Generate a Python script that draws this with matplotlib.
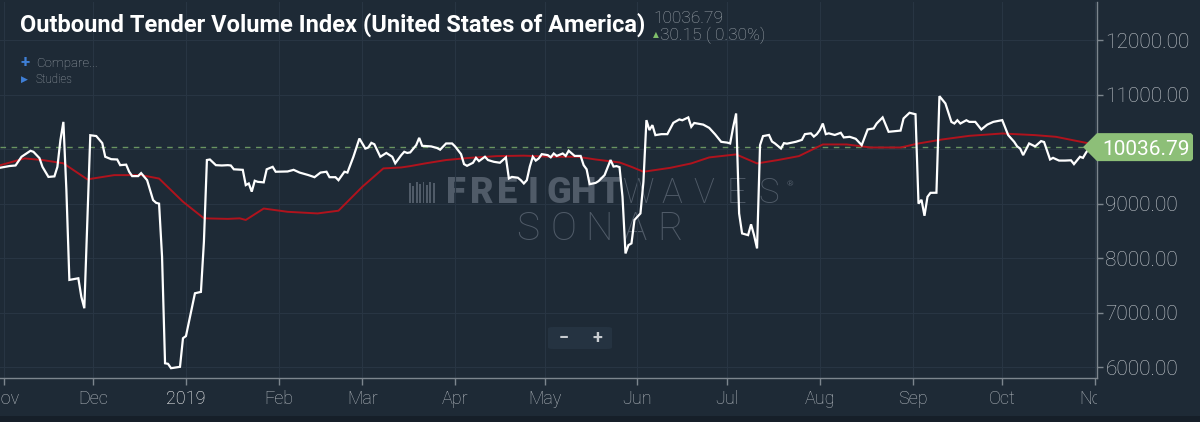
import pandas as pd
import matplotlib.pyplot as plt
from matplotlib.patches import Polygon, FancyBboxPatch, Rectangle
from matplotlib.transforms import Bbox, TransformedBbox, IdentityTransform

# Outbound tender volume index (days after 2018-11-01)
start = pd.Timestamp('2018-11-01')

otvi_days = [-1, 2, 4, 6, 9, 10, 12, 13, 15, 17, 18, 19, 20, 21, 22, 25, 26, 27, 28, 29,
             31, 33, 34, 36, 38, 39, 41, 42, 43, 45, 46, 48, 50, 51, 52, 53, 54, 55, 56, 59,
             60, 61, 64, 66, 67, 68, 69, 71, 73, 75, 76, 77, 80, 81, 82, 83, 84, 85, 87, 88,
             90, 91, 95, 97, 99, 102, 104, 106, 108, 109, 111, 112, 114, 115, 117, 119, 121, 122, 123, 124,
             126, 128, 130, 131, 133, 134, 135, 136, 138, 139, 140, 143, 145, 146, 148, 150, 151, 153, 154, 155,
             157, 158, 159, 161, 162, 164, 166, 168, 169, 170, 172, 173, 174, 175, 176, 177, 178, 179, 180, 182,
             183, 184, 185, 187, 188, 189, 191, 193, 194, 195, 196, 198, 199, 201, 203, 204, 205, 206, 207, 208,
             209, 210, 211, 213, 214, 215, 216, 217, 218, 220, 222, 224, 226, 227, 229, 230, 231, 234, 236, 238,
             240, 242, 243, 244, 245, 246, 247, 249, 250, 251, 252, 253, 254, 256, 257, 258, 260, 261, 262, 265,
             267, 268, 270, 271, 272, 273, 274, 275, 276, 278, 280, 281, 283, 285, 287, 289, 291, 292, 294, 296,
             298, 300, 301, 303, 305, 306, 307, 308, 309, 310, 312, 313, 315, 317, 318, 319, 320, 322, 323, 325,
             327, 329, 331, 334, 336, 338, 339, 340, 341, 343, 345, 347, 348, 350, 351, 353, 355, 357, 358, 360,
             361, 362, 363, 364, 365]
otvi_vals = [9660, 9690, 9700, 9860, 9970, 9950, 9835, 9675, 9490, 9500, 9675, 10165, 10500, 9250, 7600, 7630, 7290, 7080, 8640, 10255,
             10240, 10110, 9860, 9815, 9810, 9706, 9715, 9585, 9505, 9505, 9560, 9430, 9065, 9015, 9000, 8025, 6070, 6060, 5980, 6005,
             6530, 6570, 7355, 7380, 8300, 9800, 9810, 9706, 9700, 9706, 9700, 9630, 9620, 9340, 9370, 9220, 9420, 9400, 9390, 9630,
             9675, 9585, 9590, 9620, 9570, 9523, 9485, 9570, 9585, 9485, 9485, 9430, 9585, 9570, 9860, 10195, 10010, 10030, 10115, 10090,
             9860, 9930, 9860, 9740, 9890, 9951, 9930, 9940, 10073, 10207, 10061, 10050, 10020, 9990, 10104, 10104, 10050, 9908, 9725, 9694,
             9750, 9840, 9780, 9860, 9800, 9767, 9750, 9848, 9462, 9490, 9475, 9430, 9370, 9430, 9680, 9860, 9790, 9830, 9908, 9890,
             9850, 9920, 9875, 9920, 9875, 9970, 9875, 9875, 9706, 9630, 9357, 9380, 9413, 9523, 9800, 9680, 9688, 9670, 9125, 8086,
             8238, 8270, 8700, 8820, 9400, 10532, 10350, 10440, 10257, 10275, 10275, 10483, 10545, 10530, 10582, 10410, 10480, 10450, 10390, 10270,
             10134, 10120, 10104, 10400, 10655, 8820, 8453, 8422, 8620, 8420, 8178, 10073, 10239, 10260, 10140, 10104, 10012, 10110, 10100, 10135,
             10170, 10275, 10290, 10230, 10275, 10350, 10470, 10275, 10290, 10260, 10300, 10215, 10226, 10190, 10073, 10361, 10380, 10470, 10582, 10318,
             10330, 10340, 10563, 10667, 10640, 9000, 9070, 8777, 9125, 9198, 9200, 10972, 10838, 10500, 10470, 10530, 10470, 10530, 10500, 10500,
             10361, 10450, 10500, 10532, 10257, 10134, 10050, 10010, 9890, 10104, 10050, 10147, 10130, 9810, 9840, 9790, 9790, 9795, 9725, 9860,
             9840, 9933, 10012, 10006.64, 10036.79]

# red moving average line
avg_days = [-1, 7, 13, 20, 28, 37, 46, 52, 60, 67, 75, 79, 81, 87, 95, 105, 112, 120, 127, 133,
            136, 141, 148, 156, 165, 174, 183, 192, 198, 206, 210, 214, 223, 230, 236, 245, 252, 259, 266, 274,
            282, 290, 300, 306, 314, 323, 334, 345, 352, 362, 365]
avg_vals = [9706, 9830, 9800, 9740, 9445, 9523, 9523, 9460, 9035, 8730, 8720, 8730, 8700, 8910, 8850, 8820, 8870, 9310, 9646, 9664,
            9688, 9738, 9800, 9840, 9872, 9880, 9860, 9860, 9810, 9756, 9675, 9585, 9657, 9738, 9848, 9903, 9738, 9800, 9872, 10086,
            10086, 10030, 10030, 10104, 10178, 10244, 10287, 10257, 10226, 10116, 10073]

last_value = 10036.79
change = 30.15
change_pct = 0.30

month_ticks = pd.date_range('2018-11-01', '2019-11-01', freq='MS')
month_labels = ['Nov', 'Dec', '2019', 'Feb', 'Mar', 'Apr', 'May', 'Jun', 'Jul', 'Aug', 'Sep', 'Oct', 'Nov']
y_ticks = [6000, 7000, 8000, 9000, 10000, 11000, 12000]

otvi_dates = start + pd.to_timedelta(otvi_days, unit='D')
avg_dates = start + pd.to_timedelta(avg_days, unit='D')

bg = '#1e2a36'
W, H = 1200, 422


def fx(x):
    return x / W


def fy(y):
    return 1 - y / H


plt.rcParams['font.family'] = ['Roboto', 'DejaVu Sans']

fig = plt.figure(figsize=(12, 4.22), dpi=100, facecolor=bg)
ax = fig.add_axes([0, 44 / H, 1097 / W, 376 / H])
ax.set_facecolor(bg)

ax.plot(otvi_dates, otvi_vals, color='white', lw=1.6, zorder=4, solid_joinstyle='miter')
ax.plot(avg_dates, avg_vals, color='#b0131d', lw=1.4, zorder=3)
ax.axhline(last_value, color='#6a9562', lw=1, ls=(0, (4, 4)), zorder=2)

ax.set_xlim(start - pd.Timedelta(days=1.2), start + pd.Timedelta(days=365.7))
ax.set_ylim(5800, 12700)

for s in ['left', 'top']:
    ax.spines[s].set_visible(False)
for s in ['right', 'bottom']:
    ax.spines[s].set_color('#7d868e')
    ax.spines[s].set_linewidth(1)

ax.yaxis.tick_right()
ax.set_yticks(y_ticks)
ax.set_yticklabels([f'{v:.2f}' for v in y_ticks])
ax.set_xticks(month_ticks)
ax.set_xticklabels(month_labels)
ax.tick_params(axis='y', colors='#7d868e', labelcolor='#c3c8cd', length=4, width=1, pad=2, labelsize=15)
ax.tick_params(axis='x', colors='#7d868e', labelcolor='#b4bac0', length=5, width=1, pad=4, labelsize=13)
ax.grid(True, color='#283543', lw=0.8, zorder=0)

clip = TransformedBbox(Bbox([[0, 0], [1097 / W, 1]]), fig.transFigure)
for lab in ax.get_xticklabels():
    lab.set_fontweight('light')
    lab.set_clip_box(clip)
    lab.set_clip_on(True)
    if lab.get_text() == '2019':
        lab.set_color('#ffffff')
for lab in ax.get_yticklabels():
    lab.set_fontweight('light')

# watermark
wm = '#505b68'
for i, ch in enumerate('FREIGHT'):
    ax.text(fx(456 + i * 25.6), fy(193), ch, transform=fig.transFigure, ha='center', va='center',
            fontsize=26, fontweight='heavy', color=wm, zorder=1)
for i, ch in enumerate('WAVES'):
    ax.text(fx(639 + i * 32.4), fy(193), ch, transform=fig.transFigure, ha='center', va='center',
            fontsize=25, fontweight='light', color=wm, zorder=1)
ax.text(fx(790), fy(184), '®', transform=fig.transFigure, ha='center', va='center',
        fontsize=6, color=wm, zorder=1)
for i, ch in enumerate('SONAR'):
    ax.text(fx(528 + i * 35.6), fy(229), ch, transform=fig.transFigure, ha='center', va='center',
            fontsize=28, fontweight='light', color=wm, zorder=1)
for i, top in enumerate([183, 186, 182, 184, 182, 185, 182, 183]):
    ax.add_patch(Rectangle((fx(409 + i * 3.4), fy(203)), 1.8 / W, (203 - top) / H,
                           transform=fig.transFigure, color=wm, zorder=1, lw=0))

# zoom buttons
fig.patches.append(FancyBboxPatch((fx(548), fy(349)), 64 / W, 22 / H,
                                  boxstyle='round,pad=0,rounding_size=0.004',
                                  transform=fig.transFigure, fc='#253341', ec='none', zorder=5))
fig.text(fx(564), fy(338), '−', ha='center', va='center', fontsize=13, fontweight='bold', color='#c8ccd0', zorder=6)
fig.text(fx(597), fy(338), '+', ha='center', va='center', fontsize=13, fontweight='bold', color='#c8ccd0', zorder=6)
fig.lines.append(plt.Line2D([fx(581.5), fx(581.5)], [fy(331), fy(345)], transform=fig.transFigure,
                            color='#3a4756', lw=1))

# last value label on the right axis
yd = ax.transData.transform((ax.get_xlim()[0], last_value))[1]
pts = [(1083, yd), (1097, yd + 14), (1191, yd + 14), (1193, yd + 12), (1193, yd - 12),
       (1191, yd - 14), (1097, yd - 14)]
fig.patches.append(Polygon(pts, closed=True, fc='#8dbf78', ec='none', transform=IdentityTransform(), zorder=5))
fig.text(1146 / W, yd / H, f'{last_value:.2f}', ha='center', va='center_baseline', fontsize=15,
         color='white', zorder=6)

# header
fig.text(fx(20), fy(32), 'Outbound Tender Volume Index (United States of America)',
         fontweight='bold', fontsize=17, color='white', va='baseline')
fig.text(fx(653), fy(23), f'{last_value:.2f}', fontsize=12.5, fontweight='light', color='#9ea6ad', va='baseline')
fig.text(fx(656), fy(35), '▲', family=['DejaVu Sans'], fontsize=5.5, color='#7fbf6a', ha='center', va='center')
fig.text(fx(660), fy(40), f'{change:.2f} ( {change_pct:.2f}%)', fontsize=12.5, fontweight='light',
         color='#9ea6ad', va='baseline')
fig.text(fx(25), fy(62), '+', fontsize=12, fontweight='bold', color='#3f7fd6', ha='center', va='center')
fig.text(fx(36), fy(67), 'Compare...', fontsize=9.5, fontweight='light', color='#9ea6ad', va='baseline')
fig.text(fx(24), fy(79), '▶', family=['DejaVu Sans'], fontsize=6.5, color='#3f7fd6', ha='center', va='center')
fig.text(fx(36), fy(83), 'Studies', fontsize=8.3, fontweight='light', color='#9ea6ad', va='baseline')

fig.patches.append(Rectangle((0, 0), 1, 6 / H, transform=fig.transFigure, fc='#161f29', ec='none'))

fig.savefig('out.png', dpi=100, facecolor=bg)
